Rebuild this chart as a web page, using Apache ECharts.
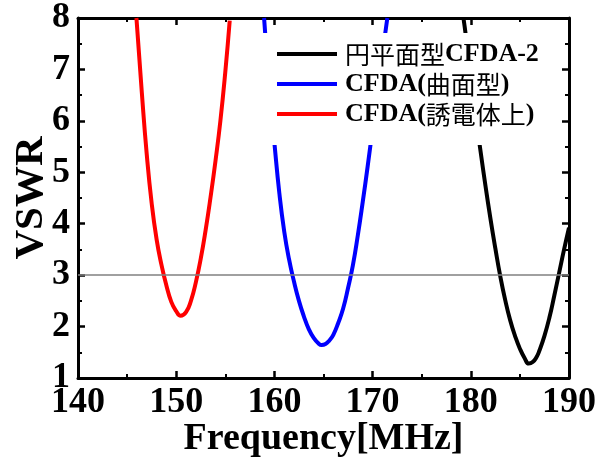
<!DOCTYPE html>
<html>
<head>
<meta charset="utf-8">
<script src="https://cdn.jsdelivr.net/npm/echarts@6/dist/echarts.min.js"></script>
<style>
html,body{margin:0;padding:0;background:#fff;}
#chart{width:609px;height:463px;}
</style>
</head>
<body>
<div id="chart"></div>
<script>
// Data
const seriesNames = ['円平面型CFDA-2', 'CFDA(曲面型)', 'CFDA(誘電体上)'];
const freqBlack = [179.25, 179.5, 180.0, 180.5, 181.0, 181.5, 182.0, 182.5, 183.0, 183.5, 184.0, 184.5, 185.0, 185.5, 185.9, 186.3, 186.7, 187.0, 187.5, 188.0, 188.5, 189.0, 189.5, 190.0];
const vswrBlack = [8.0, 7.65, 6.85, 6.1, 5.4, 4.73, 4.1, 3.52, 2.98, 2.52, 2.13, 1.82, 1.57, 1.38, 1.28, 1.31, 1.41, 1.54, 1.82, 2.17, 2.6, 3.05, 3.5, 3.92];
const freqBlue = [158.95, 159.5, 160.0, 160.5, 161.0, 161.5, 162.0, 162.5, 163.0, 163.5, 164.0, 164.5, 164.8, 165.2, 165.6, 166.0, 166.5, 167.0, 167.5, 168.0, 168.5, 169.0, 169.5, 170.0, 170.5, 171.0, 171.5];
const vswrBlue = [8.0, 6.6, 5.57, 4.6, 3.85, 3.3, 2.87, 2.5, 2.2, 1.95, 1.78, 1.67, 1.64, 1.66, 1.73, 1.84, 2.07, 2.35, 2.75, 3.2, 3.78, 4.43, 5.12, 5.85, 6.6, 7.3, 8.0];
const freqRed = [145.95, 146.5, 147.0, 147.5, 148.0, 148.5, 149.0, 149.5, 150.0, 150.45, 151.0, 151.5, 152.0, 152.5, 153.0, 153.5, 154.0, 154.5, 155.0, 155.45];
const vswrRed = [8.0, 6.55, 5.35, 4.4, 3.7, 3.2, 2.8, 2.48, 2.3, 2.21, 2.28, 2.5, 2.86, 3.32, 3.88, 4.52, 5.22, 6.0, 6.95, 7.95];
const refLevel = 3;
const xTicks = [140, 150, 160, 170, 180, 190];
const yTicks = [1, 2, 3, 4, 5, 6, 7, 8];

function pairs(xs, ys) { return xs.map((x, i) => [x, ys[i]]); }

const chart = echarts.init(document.getElementById('chart'));
const serif = '"Liberation Serif", "Times New Roman", serif';
const cjk = '"Noto Sans CJK JP", sans-serif';

function legendFmt(name) {
  const parts = name.match(/[\x00-\x7F]+|[^\x00-\x7F]+/g) || [];
  return parts.map(p => /^[\x00-\x7F]+$/.test(p) ? '{l|' + p + '}' : '{c|' + p + '}').join('');
}

const baseAxisLine = { show: true, onZero: false, lineStyle: { color: '#000', width: 3 } };
const tickStyle = { show: true, inside: true, length: 7, lineStyle: { color: '#000', width: 2.5 } };
const minorStyle = { show: true, splitNumber: 2, length: 4, lineStyle: { color: '#000', width: 2 } };

const option = {
  animation: false,
  backgroundColor: '#fff',
  grid: { left: 78, right: 40, top: 18, bottom: 85, containLabel: false, outerBoundsMode: 'none' },
  legend: {
    orient: 'vertical',
    left: 262,
    top: 33,
    padding: [8, 18, 18, 15],
    backgroundColor: '#fff',
    itemGap: 4,
    itemWidth: 60,
    itemHeight: 4,
    icon: 'rect',
    data: seriesNames,
    formatter: legendFmt,
    textStyle: {
      padding: [0, 0, 0, 3],
      rich: {
        l: { fontFamily: serif, fontWeight: 'bold', fontSize: 26, lineHeight: 26, color: '#000' },
        c: { fontFamily: cjk, fontWeight: 'normal', fontSize: 25, lineHeight: 26, color: '#000' }
      }
    }
  },
  xAxis: [
    {
      type: 'value', min: 140, max: 190, interval: 10, position: 'bottom',
      name: 'Frequency[MHz]', nameLocation: 'middle', nameGap: 42, nameMoveOverlap: false,
      nameTextStyle: { fontFamily: serif, fontWeight: 'bold', fontSize: 38, color: '#000' },
      axisLine: baseAxisLine, axisTick: tickStyle, minorTick: minorStyle,
      splitLine: { show: false },
      axisLabel: { margin: 7, fontFamily: serif, fontWeight: 'bold', fontSize: 36, color: '#000',
        formatter: v => xTicks.includes(v) ? String(v) : '' }
    },
    {
      type: 'value', min: 140, max: 190, interval: 10, position: 'top',
      axisLine: baseAxisLine, axisTick: tickStyle, minorTick: minorStyle,
      splitLine: { show: false }, axisLabel: { show: false }
    }
  ],
  yAxis: [
    {
      type: 'value', min: 1, max: 8, interval: 1, position: 'left',
      name: 'VSWR', nameLocation: 'middle', nameGap: 26, nameMoveOverlap: false,
      nameTextStyle: { fontFamily: serif, fontWeight: 'bold', fontSize: 41, color: '#000' },
      axisLine: baseAxisLine, axisTick: tickStyle, minorTick: minorStyle,
      splitLine: { show: false },
      axisLabel: { margin: 8, fontFamily: serif, fontWeight: 'bold', fontSize: 36, color: '#000',
        formatter: v => yTicks.includes(v) ? String(v) : '' }
    },
    {
      type: 'value', min: 1, max: 8, interval: 1, position: 'right',
      axisLine: baseAxisLine, axisTick: tickStyle, minorTick: minorStyle,
      splitLine: { show: false }, axisLabel: { show: false }
    }
  ],
  series: [
    {
      name: seriesNames[0], type: 'line', data: pairs(freqBlack, vswrBlack),
      smooth: 0.5, symbol: 'none', clip: true,
      itemStyle: { color: '#000' }, lineStyle: { color: '#000', width: 4 },
      markLine: {
        silent: true, symbol: 'none', label: { show: false },
        lineStyle: { color: '#808080', width: 1.5, type: 'solid' },
        data: [{ yAxis: refLevel }]
      }
    },
    {
      name: seriesNames[1], type: 'line', data: pairs(freqBlue, vswrBlue),
      smooth: 0.5, symbol: 'none', clip: true,
      itemStyle: { color: '#0000ff' }, lineStyle: { color: '#0000ff', width: 4 }
    },
    {
      name: seriesNames[2], type: 'line', data: pairs(freqRed, vswrRed),
      smooth: 0.5, symbol: 'none', clip: true,
      itemStyle: { color: '#ff0000' }, lineStyle: { color: '#ff0000', width: 4 }
    }
  ]
};
chart.setOption(option);
</script>
</body>
</html>
